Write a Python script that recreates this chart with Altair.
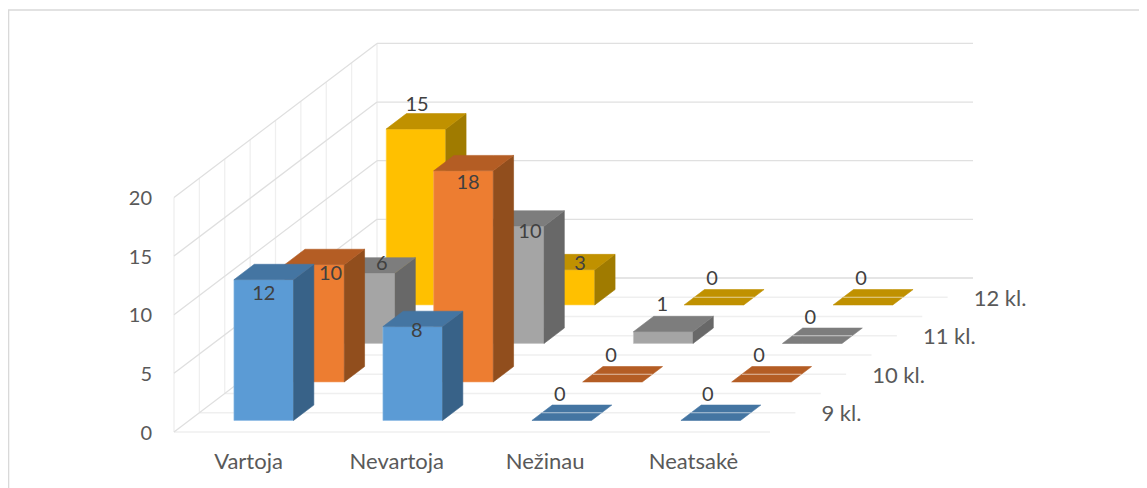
import altair as alt
import pandas as pd

CATEGORIES = ["Vartoja", "Nevartoja", "Nežinau", "Neatsakė"]
SERIES = ["9 kl.", "10 kl.", "11 kl.", "12 kl."]
KL9 = [12, 8, 0, 0]
KL10 = [10, 18, 0, 0]
KL11 = [6, 10, 1, 0]
KL12 = [15, 3, 0, 0]
TICKS = [0, 5, 10, 15, 20]
VALUES = [KL9, KL10, KL11, KL12]

# face colours per series: front, top, side, edge
FRONT = ["#5B9BD5", "#ED7D31", "#A5A5A5", "#FFC000"]
TOP = ["#4475A2", "#B45D24", "#7D7D7D", "#C09100"]
SIDE = ["#386288", "#914E1D", "#686868", "#A07B00"]
EDGE = ["#8DBBE4", "#F4A26B", "#C4C4C4", "#FFD75E"]

# oblique projection of the 3D chart box onto the page
ORIGIN_X, ORIGIN_Y = 174.0, 432.0
CAT_W = 149.0
SLOT_X, SLOT_Y = 50.75, 38.5
UNIT = 11.73
TOP_V = 20


def px(c, s):
    return ORIGIN_X + CAT_W * c + SLOT_X * s


def py(s, v=0.0):
    return ORIGIN_Y - SLOT_Y * s - UNIT * v


# label placement relative to the front-top centre of each bar
NUDGE = [
    [(0, 14), (4, 4), (-2, -25), (-3, -25)],
    [(16, 9), (4.5, 12), (-1.5, -26), (-2.5, -26)],
    [(16.5, -9), (15.7, 6), (-1, -27), (-2, -25)],
    [(1, -24), (15, -6), (-2, -26), (-2, -26)],
]

polys, labels, stripes = [], [], []
n = 0
for s in reversed(range(len(SERIES))):
    for c in range(len(CATEGORIES)):
        v = VALUES[s][c]
        xl, xr = px(c + 0.3, s + 0.3), px(c + 0.7, s + 0.3)
        dx, dy = px(0, 0.7) - px(0, 0.3), py(0.3) - py(0.7)
        base, top = py(s + 0.3), py(s + 0.3, v)
        if v > 0:
            for x, a, b in [(xl, top, base), (xr, top, base)]:
                polys.append(dict(id=n, x=x, y=a, y2=b, fill=FRONT[s], edge=EDGE[s]))
            n += 1
            for x, a, b in [(xr, top, base), (xr + dx, top - dy, base - dy)]:
                polys.append(dict(id=n, x=x, y=a, y2=b, fill=SIDE[s], edge=SIDE[s]))
            n += 1
        for x, a, b in [
            (xl, top, top),
            (xl + dx, top, top - dy),
            (xr, top, top - dy),
            (xr + dx, top - dy, top - dy),
        ]:
            polys.append(dict(id=n, x=x, y=a, y2=b, fill=TOP[s], edge=TOP[s]))
        n += 1
        if v == 0:
            stripes.append(dict(x=xl + dx / 2, x2=xr + dx / 2, y=py(s + 0.5), y2=py(s + 0.5)))
        ox, oy = NUDGE[s][c]
        labels.append(dict(x=(xl + xr) / 2 + ox, y=top + oy, t=str(v)))

grid = []
# page border
grid.append(dict(x=8.4, x2=8.4, y=10, y2=488, c="#D9D9D9", w=1.8))
grid.append(dict(x=8, x2=1139, y=10, y2=10, c="#D9D9D9", w=1.6))
nd = 2 * len(SERIES)
# floor lines and wall verticals
for k in range(nd + 1):
    d = k / 2
    grid.append(dict(x=px(0, d), x2=px(4, d), y=py(d), y2=py(d), c="#EFEFEF", w=1.3))
    grid.append(dict(x=px(0, d), x2=px(0, d), y=py(d), y2=py(d, TOP_V), c="#EFEFEF", w=1.3))
# value lines on the side and back walls
for t in TICKS:
    grid.append(dict(x=px(0, 0), x2=px(0, 4), y=py(0, t), y2=py(4, t), c="#DFDFDF", w=1.3))
    grid.append(dict(x=px(0, 4), x2=px(4, 4), y=py(4, t), y2=py(4, t), c="#E0E0E0", w=1.3))

ticks = [dict(x=152, y=py(0, t) + 1.5, t=str(t)) for t in TICKS]
cats = [dict(x=px(c + 0.5, 0) - 0.7 * c, y=462, t=name) for c, name in enumerate(CATEGORIES)]
sers = [dict(x=px(4, s + 0.5) + 26, y=py(s + 0.5) + 1.5, t=name) for s, name in enumerate(SERIES)]

X = lambda f="x": alt.X(f"{f}:Q", scale=alt.Scale(domain=[8, 1139], nice=False, zero=False), axis=None)
Y = lambda f="y": alt.Y(f"{f}:Q", scale=alt.Scale(domain=[8, 488], reverse=True, nice=False, zero=False), axis=None)

grid_layer = alt.Chart(pd.DataFrame(grid)).mark_rule().encode(
    x=X(), x2="x2:Q", y=Y(), y2="y2:Q",
    color=alt.Color("c:N", scale=None),
    strokeWidth=alt.StrokeWidth("w:Q", scale=None),
)
bars = alt.Chart(pd.DataFrame(polys)).mark_area(strokeWidth=0.6, orient="vertical").encode(
    x=X(), y=Y(), y2="y2:Q",
    detail="id:N",
    fill=alt.Fill("fill:N", scale=None),
    stroke=alt.Stroke("edge:N", scale=None),
)
stripe_layer = alt.Chart(pd.DataFrame(stripes)).mark_rule(color="#FFFFFF", opacity=0.6, strokeWidth=1).encode(
    x=X(), x2="x2:Q", y=Y(), y2="y2:Q",
)


def text_layer(rows, color, align, size):
    return alt.Chart(pd.DataFrame(rows)).mark_text(
        font="Lato", fontSize=size, color=color, align=align, baseline="middle"
    ).encode(x=X(), y=Y(), text="t:N")


chart = alt.layer(
    grid_layer,
    bars,
    stripe_layer,
    text_layer(ticks, "#595959", "right", 20),
    text_layer(cats, "#595959", "center", 22),
    text_layer(sers, "#595959", "left", 22),
    text_layer(labels, "#404040", "center", 20),
).properties(
    width=1131,
    height=480,
    padding=0,
    autosize=alt.AutoSizeParams(type="none"),
    background="#FFFFFF",
).configure_view(stroke=None)

chart.save("out.html", embed_options={"renderer": "svg", "actions": False})
